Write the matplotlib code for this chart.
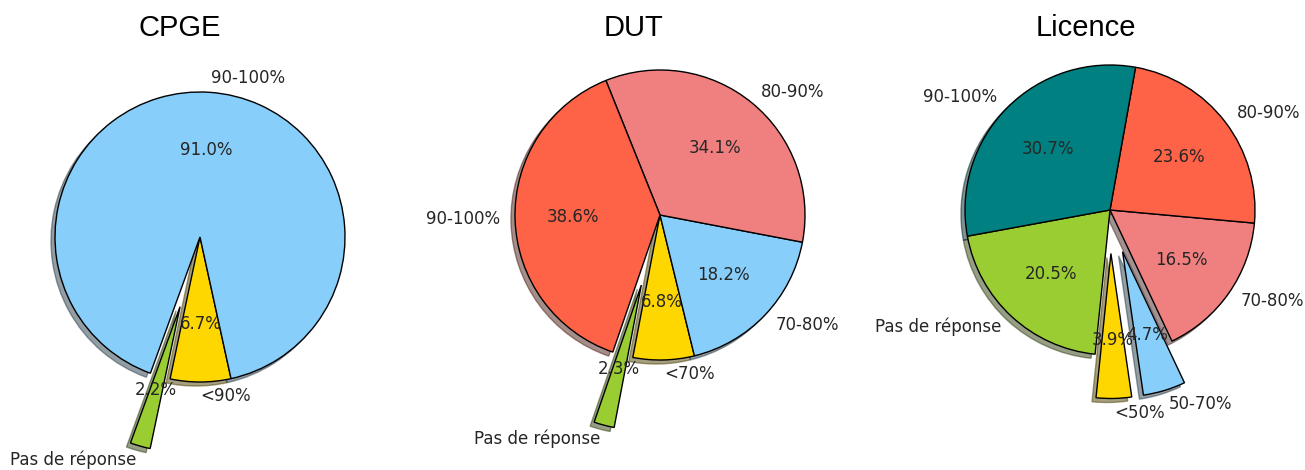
import matplotlib.pyplot as plt

W, H = 1305, 470
R = 145  # pie radius in pixels

# counts (percentages shown: 2.2 / 6.7 / 91.0)
cpge_labels = ["Pas de réponse", "<90%", "90-100%"]
cpge_values = [2, 6, 81]
cpge_colors = ["yellowgreen", "gold", "lightskyblue"]
cpge_explode = [0.5, 0, 0]

dut_labels = ["Pas de réponse", "<70%", "70-80%", "80-90%", "90-100%"]
dut_values = [1, 3, 8, 15, 17]
dut_colors = ["yellowgreen", "gold", "lightskyblue", "lightcoral", "tomato"]
dut_explode = [0.5, 0, 0, 0, 0]

lic_labels = ["Pas de réponse", "<50%", "50-70%", "70-80%", "80-90%", "90-100%"]
lic_values = [26, 5, 6, 21, 30, 39]
lic_colors = ["yellowgreen", "gold", "lightskyblue", "lightcoral", "tomato", "teal"]
lic_explode = [0, 0.3, 0.3, 0, 0, 0]

pies = [
    ("CPGE", cpge_labels, cpge_values, cpge_colors, cpge_explode, 250, (200, 237), 180),
    ("DUT", dut_labels, dut_values, dut_colors, dut_explode, 251, (660, 215), 633),
    ("Licence", lic_labels, lic_values, lic_colors, lic_explode, 190.4, (1110, 210), 1086),
]

fig = plt.figure(figsize=(W / 100, H / 100), dpi=100)

for title, labels, values, colors, explode, start, (cx, cy), tx in pies:
    side = 2.5 * R
    ax = fig.add_axes([(cx - side / 2) / W, (H - cy - side / 2) / H, side / W, side / H])
    wedges, texts, autotexts = ax.pie(values, labels=labels, colors=colors, explode=explode,
                                      startangle=start, shadow=True, autopct="%1.1f%%",
                                      wedgeprops={"edgecolor": "black", "linewidth": 1},
                                      textprops={"fontsize": 12, "color": "0.15"})
    ax.set_xlim(-1.25, 1.25)
    ax.set_ylim(-1.25, 1.25)
    ax.set_aspect("equal")
    fig.text(tx / W, 1 - 28 / H, title, ha="center", va="center",
             fontsize=21, family="Liberation Sans")

fig.savefig("out.png", dpi=100)
